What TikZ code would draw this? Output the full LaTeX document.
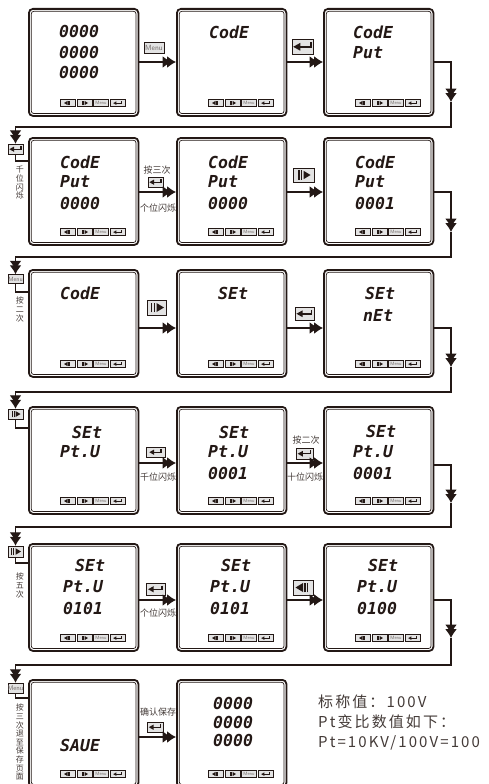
\documentclass[tikz,border=0pt]{standalone}
\usepackage{fontspec}
\newfontfamily\lcdfont{DejaVu Sans Mono}
\newfontfamily\cjk{Noto Sans CJK SC}
\newfontfamily\cjkls{Noto Sans CJK SC}[LetterSpace=14]
\usetikzlibrary{arrows.meta,calc}
\definecolor{ink}{HTML}{231815}
\tikzset{
  panel/.style={draw=ink, line width=1.8pt, rounded corners=4pt, minimum width=109.5pt, minimum height=107pt, fill=white, inner sep=0pt},
  innerframe/.style={draw=ink, line width=0.7pt, rounded corners=2.5pt},
  keybox/.style={draw=ink, fill=gray!22, line width=0.5pt, inner sep=0pt},
  lcd/.style={font=\lcdfont\bfseries\itshape\fontsize{16.5}{16.5}\selectfont, text=ink, inner sep=0pt, anchor=west},
  conn/.style={draw=ink, line width=1.3pt, -{Latex[length=9pt,width=12pt,sep=-4.5pt]Latex[length=9pt,width=12pt]}},
  plain/.style={draw=ink, line width=1.3pt},
  lab/.style={font=\cjk\fontsize{9}{9}\selectfont, text=ink!85, inner sep=0pt},
  vlab/.style={font=\cjk\fontsize{8}{8.6}\selectfont, text=ink!85, inner sep=0pt, align=center, anchor=north},
  note/.style={font=\cjkls\fontsize{15}{15}\selectfont, text=ink!85, inner sep=0pt, anchor=west}
}
\newcommand\gprev[1]{\fill[ink] (-0.5,0) -- (0.0,0.3) -- (0.0,-0.3) -- cycle;
  \draw[ink,line width=#1*0.09pt] (0.14,-0.33) -- (0.14,0.33) (0.32,-0.33) -- (0.32,0.33);}
\newcommand\gnext[1]{\draw[ink,line width=#1*0.09pt] (-0.32,-0.33) -- (-0.32,0.33) (-0.14,-0.33) -- (-0.14,0.33);
  \fill[ink] (0.0,0.3) -- (0.5,0) -- (0.0,-0.3) -- cycle;}
\newcommand\gmenu[1]{\node[font=\sffamily, text=ink!65, scale=#1*0.068, inner sep=0pt] at (0,0) {Menu};}
\newcommand\genter[1]{\draw[ink,line width=#1*0.12pt] (0.55,0.28) -- (0.55,-0.02) -- (-0.2,-0.02);
  \fill[ink] (-0.62,-0.02) -- (-0.15,0.24) -- (-0.15,-0.28) -- cycle;}
% name, position, width, height, type
\newcommand\mkkey[5]{%
  \node[keybox, minimum width=#3pt, minimum height=#4pt] (#1) at (#2) {};
  \begin{scope}[shift={(#1.center)}, x=#4pt, y=#4pt]\csname g#5\endcsname{#4}\end{scope}}
% name, x, y of top-left corner
\newcommand\mkpanel[3]{%
  \node[panel, anchor=north west] (#1) at (#2,#3) {};
  \draw[innerframe] ([shift={(3.3,3.3)}]#1.north west) rectangle ([shift={(-3.3,-3.3)}]#1.south east);
  \mkkey{#1ka}{$(#1.north west)+(39.5,95)$}{15}{7}{prev}
  \mkkey{#1kb}{$(#1.north west)+(56.5,95)$}{15}{7}{next}
  \mkkey{#1kc}{$(#1.north west)+(73,95)$}{15}{7}{menu}
  \mkkey{#1kd}{$(#1.north west)+(89.5,95)$}{15}{7}{enter}}
\begin{document}
\begin{tikzpicture}[x=1pt,y=-1pt]
\clip (0,0) rectangle (488,784);
\fill[white] (0,0) rectangle (488,784);

% ---------- panels ----------
\mkpanel{p11}{28}{8}   \mkpanel{p12}{176}{8}   \mkpanel{p13}{323}{8}
\mkpanel{p21}{28}{137} \mkpanel{p22}{176}{137} \mkpanel{p23}{323}{137}
\mkpanel{p31}{28}{269} \mkpanel{p32}{176}{269} \mkpanel{p33}{323}{269}
\mkpanel{p41}{28}{406} \mkpanel{p42}{176}{406} \mkpanel{p43}{323}{406}
\mkpanel{p51}{28}{543} \mkpanel{p52}{176}{543} \mkpanel{p53}{323}{543}
\mkpanel{p61}{28}{679} \mkpanel{p62}{176}{679}

% ---------- display texts ----------
\node[lcd] (t11a) at (59,31) {0000};
\node[lcd] (t11b) at (59,52) {0000};
\node[lcd] (t11c) at (59,72) {0000};
\node[lcd] (t12a) at (209,32) {CodE};
\node[lcd] (t13a) at (353,32) {CodE};
\node[lcd] (t13b) at (353,53) {Put};

\node[lcd] (t21a) at (60,162) {CodE};
\node[lcd] (t21b) at (60,182) {Put};
\node[lcd] (t21c) at (60,203) {0000};
\node[lcd] (t22a) at (208,162) {CodE};
\node[lcd] (t22b) at (208,182) {Put};
\node[lcd] (t22c) at (208,203) {0000};
\node[lcd] (t23a) at (355,162) {CodE};
\node[lcd] (t23b) at (355,182) {Put};
\node[lcd] (t23c) at (355,203) {0001};

\node[lcd] (t31a) at (60,293) {CodE};
\node[lcd] (t32a) at (218,293) {SEt};
\node[lcd] (t33a) at (365,293) {SEt};
\node[lcd] (t33b) at (363,315) {nEt};

\node[lcd] (t41a) at (72,432) {SEt};
\node[lcd] (t41b) at (60,452) {Pt.U};
\node[lcd] (t42a) at (219,432) {SEt};
\node[lcd] (t42b) at (208,452) {Pt.U};
\node[lcd] (t42c) at (208,473) {0001};
\node[lcd] (t43a) at (366,431) {SEt};
\node[lcd] (t43b) at (353,452) {Pt.U};
\node[lcd] (t43c) at (353,473) {0001};

\node[lcd] (t51a) at (75,565) {SEt};
\node[lcd] (t51b) at (63,587) {Pt.U};
\node[lcd] (t51c) at (63,608) {0101};
\node[lcd] (t52a) at (221,565) {SEt};
\node[lcd] (t52b) at (210,587) {Pt.U};
\node[lcd] (t52c) at (210,608) {0101};
\node[lcd] (t53a) at (368,565) {SEt};
\node[lcd] (t53b) at (357,587) {Pt.U};
\node[lcd] (t53c) at (357,608) {0100};

\node[lcd] (t61a) at (60,745) {SAUE};
\node[lcd] (t62a) at (213,703) {0000};
\node[lcd] (t62b) at (213,722) {0000};
\node[lcd] (t62c) at (213,740) {0000};

% ---------- row 1 connectors ----------
\coordinate (r1) at (0,62);
\mkkey{k1a}{154,47.5}{20}{11}{menu}
\draw[conn] (p11.east |- r1) -- (p12.west |- r1);
\mkkey{k1b}{302.5,46.5}{21}{15}{enter}
\draw[conn] (p12.east |- r1) -- (p13.west |- r1);
\coordinate (c1a) at (451,62);
\coordinate (c1b) at (451,102);
\coordinate (c1c) at (451,127);
\mkkey{L1}{15.5,149}{15}{10}{enter}
\coordinate (c1d) at (L1.north |- c1c);
\coordinate (c1e) at (L1.south |- 0,161);
\draw[conn] (p13.east |- r1) -- (c1a) -- (c1b);
\draw[conn] (c1b) -- (c1c) -- (c1d) -- (L1.north);
\draw[plain] (L1.south) -- (c1e) -- (p21.west |- c1e);
\node[vlab] (v1) at (20,166) {千\\位\\闪\\烁};

% ---------- row 2 connectors ----------
\coordinate (r2) at (0,192);
\node[lab] (l2a) at (157,170) {按三次};
\mkkey{k2a}{155.5,182}{15}{10}{enter}
\draw[conn] (p21.east |- r2) -- (p22.west |- r2);
\node[lab] (l2b) at (158,208) {个位闪烁};
\mkkey{k2b}{303.5,175}{21}{14}{next}
\draw[conn] (p22.east |- r2) -- (p23.west |- r2);
\coordinate (c2a) at (451,192);
\coordinate (c2b) at (451,232);
\coordinate (c2c) at (451,257);
\mkkey{L2}{15.5,279}{15}{9}{menu}
\coordinate (c2d) at (L2.north |- c2c);
\coordinate (c2e) at (L2.south |- 0,292);
\draw[conn] (p23.east |- r2) -- (c2a) -- (c2b);
\draw[conn] (c2b) -- (c2c) -- (c2d) -- (L2.north);
\draw[plain] (L2.south) -- (c2e) -- (p31.west |- c2e);
\node[vlab] (v2) at (20,297) {按\\二\\次};

% ---------- row 3 connectors ----------
\coordinate (r3) at (0,328);
\mkkey{k3a}{156.5,307.5}{19}{15}{next}
\draw[conn] (p31.east |- r3) -- (p32.west |- r3);
\mkkey{k3b}{304.5,313.5}{19}{13}{enter}
\draw[conn] (p32.east |- r3) -- (p33.west |- r3);
\coordinate (c3a) at (451,328);
\coordinate (c3b) at (451,367);
\coordinate (c3c) at (451,392);
\mkkey{L3}{15.5,414}{15}{10}{next}
\coordinate (c3d) at (L3.north |- c3c);
\coordinate (c3e) at (L3.south |- 0,428);
\draw[conn] (p33.east |- r3) -- (c3a) -- (c3b);
\draw[conn] (c3b) -- (c3c) -- (c3d) -- (L3.north);
\draw[plain] (L3.south) -- (c3e) -- (p41.west |- c3e);

% ---------- row 4 connectors ----------
\coordinate (r4) at (0,463);
\mkkey{k4a}{155.5,452}{19}{10}{enter}
\draw[conn] (p41.east |- r4) -- (p42.west |- r4);
\node[lab] (l4a) at (158,477) {千位闪烁};
\node[lab] (l4b) at (306,440) {按二次};
\mkkey{k4b}{304.5,453.5}{17}{11}{enter}
\draw[conn] (p42.east |- r4) -- (p43.west |- r4);
\node[lab] (l4c) at (305,477) {十位闪烁};
\coordinate (c4a) at (451,465);
\coordinate (c4b) at (451,503);
\coordinate (c4c) at (451,527);
\mkkey{L4}{15.5,551.5}{15}{11}{next}
\coordinate (c4d) at (L4.north |- c4c);
\coordinate (c4e) at (L4.south |- 0,563);
\draw[conn] (p43.east |- c4a) -- (c4a) -- (c4b);
\draw[conn] (c4b) -- (c4c) -- (c4d) -- (L4.north);
\draw[plain] (L4.south) -- (c4e) -- (p51.west |- c4e);
\node[vlab] (v4) at (20,573) {按\\五\\次};

% ---------- row 5 connectors ----------
\coordinate (r5) at (0,600);
\mkkey{k5a}{155.5,589}{19}{12}{enter}
\draw[conn] (p51.east |- r5) -- (p52.west |- r5);
\node[lab] (l5a) at (158,613) {个位闪烁};
\mkkey{k5b}{303,587.5}{20}{15}{prev}
\draw[conn] (p52.east |- r5) -- (p53.west |- r5);
\coordinate (c5a) at (451,600);
\coordinate (c5b) at (451,638);
\coordinate (c5c) at (451,665);
\mkkey{L5}{15.5,688}{15}{10}{menu}
\coordinate (c5d) at (L5.north |- c5c);
\coordinate (c5e) at (L5.south |- 0,698);
\draw[conn] (p53.east |- r5) -- (c5a) -- (c5b);
\draw[conn] (c5b) -- (c5c) -- (c5d) -- (L5.north);
\draw[plain] (L5.south) -- (c5e) -- (p61.west |- c5e);
\node[vlab] (v5) at (20,704) {按\\三\\次\\退\\至\\保\\存\\页\\面};

% ---------- row 6 connectors ----------
\coordinate (r6) at (0,737);
\node[lab] (l6a) at (158,712) {确认保存};
\mkkey{k6a}{155,727}{16}{10}{enter}
\draw[conn] (p61.east |- r6) -- (p62.west |- r6);

% ---------- note ----------
\node[note] (n1) at (318,702) {标称值：100V};
\node[note] (n2) at (318,722) {Pt变比数值如下：};
\node[note] (n3) at (318,743) {Pt=10KV/100V=100};
\end{tikzpicture}
\end{document}
